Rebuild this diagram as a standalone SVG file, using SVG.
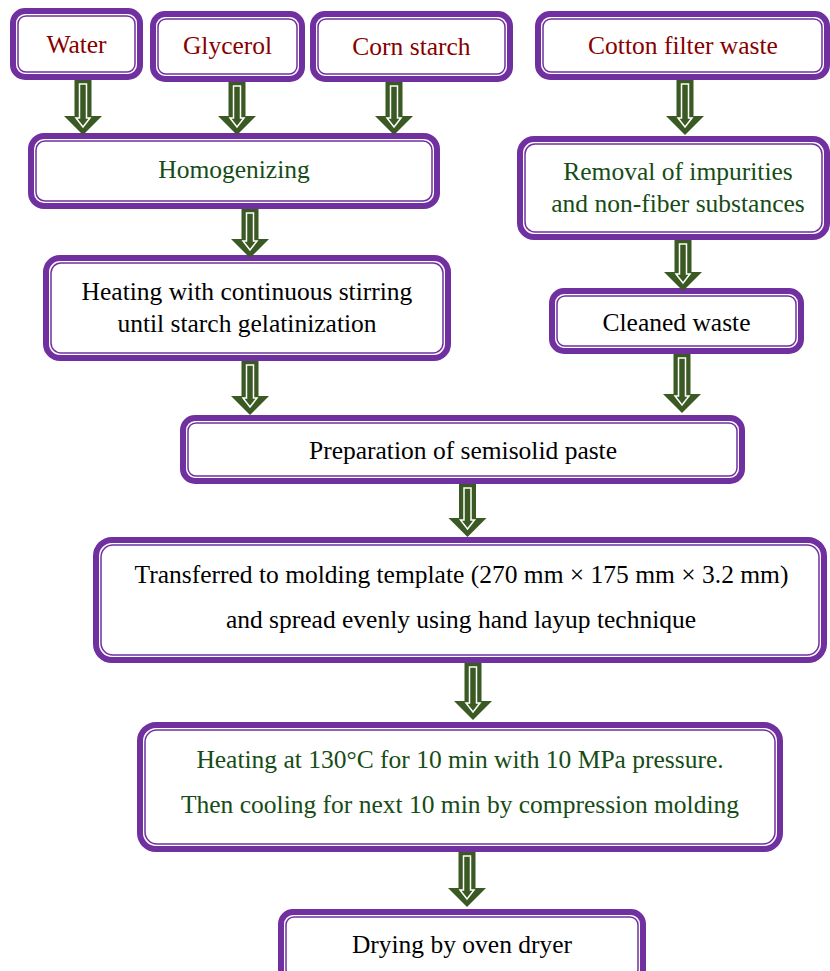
<svg xmlns="http://www.w3.org/2000/svg" width="830" height="971" viewBox="0 0 830 971">
<style>
.outer{fill:#fff;stroke:#7030a0;stroke-width:6}
.inner{fill:none;stroke:#7030a0;stroke-width:1.5}
.t{font-family:"Liberation Serif","Times New Roman",serif;font-size:25.5px;text-anchor:middle}
.red{fill:#860000}
.grn{fill:#164c16}
.blk{fill:#000}
.ao{fill:#3b5a23}
.ai{fill:#3b5a23;stroke:#fff;stroke-width:1.5;stroke-linejoin:miter}
</style>
<rect width="830" height="971" fill="#fff"/>

<g id="water">
<rect class="outer" x="13" y="11" width="127" height="66" rx="12"/>
<rect class="inner" x="18" y="16" width="117" height="56" rx="8"/>
<text class="t red" x="76.5" y="53">Water</text>
</g>
<g id="glycerol">
<rect class="outer" x="153" y="14" width="149" height="65" rx="12"/>
<rect class="inner" x="158" y="19" width="139" height="55" rx="8"/>
<text class="t red" x="227.5" y="54">Glycerol</text>
</g>
<g id="cornstarch">
<rect class="outer" x="313" y="14" width="197" height="65" rx="12"/>
<rect class="inner" x="318" y="19" width="187" height="55" rx="8"/>
<text class="t red" x="411.5" y="55">Corn starch</text>
</g>
<g id="cotton">
<rect class="outer" x="538" y="14" width="289" height="63" rx="12"/>
<rect class="inner" x="543" y="19" width="279" height="53" rx="8"/>
<text class="t red" x="683" y="54">Cotton filter waste</text>
</g>
<g id="homogenizing">
<rect class="outer" x="31" y="136" width="406" height="70" rx="13"/>
<rect class="inner" x="36" y="141" width="396" height="60" rx="9"/>
<text class="t grn" x="234" y="178">Homogenizing</text>
</g>
<g id="heating1">
<rect class="outer" x="46" y="258" width="402" height="100" rx="14"/>
<rect class="inner" x="51" y="263" width="392" height="90" rx="10"/>
<text class="t blk" x="247" y="300">Heating with continuous stirring</text>
<text class="t blk" x="247" y="332">until starch gelatinization</text>
</g>
<g id="removal">
<rect class="outer" x="520" y="139" width="307" height="98" rx="14"/>
<rect class="inner" x="525" y="144" width="297" height="88" rx="10"/>
<text class="t grn" x="678" y="180">Removal of impurities</text>
<text class="t grn" x="678" y="212">and non-fiber substances</text>
</g>
<g id="cleaned">
<rect class="outer" x="552" y="291" width="249" height="60" rx="12"/>
<rect class="inner" x="557" y="296" width="239" height="50" rx="8"/>
<text class="t blk" x="676.5" y="331">Cleaned waste</text>
</g>
<g id="preparation">
<rect class="outer" x="183" y="418" width="559" height="63" rx="12"/>
<rect class="inner" x="188" y="423" width="549" height="53" rx="8"/>
<text class="t blk" x="463" y="459">Preparation of semisolid paste</text>
</g>
<g id="transferred">
<rect class="outer" x="96" y="540" width="728" height="120" rx="16"/>
<rect class="inner" x="101" y="545" width="718" height="110" rx="12"/>
<text class="t blk" x="461.5" y="583">Transferred to molding template (270 mm × 175 mm × 3.2 mm)</text>
<text class="t blk" x="461" y="628">and spread evenly using hand layup technique</text>
</g>
<g id="heating2">
<rect class="outer" x="140" y="725" width="640" height="124" rx="16"/>
<rect class="inner" x="145" y="730" width="630" height="114" rx="12"/>
<text class="t grn" x="460" y="768">Heating at 130°C for 10 min with 10 MPa pressure.</text>
<text class="t grn" x="460" y="813">Then cooling for next 10 min by compression molding</text>
</g>
<g id="drying">
<rect class="outer" x="281" y="912" width="362" height="70" rx="12"/>
<rect class="inner" x="286" y="917" width="352" height="60" rx="8"/>
<text class="t blk" x="462" y="953">Drying by oven dryer</text>
</g>

<g id="connectors">
<!-- arrow: cx, top, tip; shaft half 8.5, head half 19, head h 19 -->
<g transform="translate(83,0)">
<polygon class="ao" points="-8.5,80 8.5,80 8.5,116 19,116 0,135 -19,116 -8.5,116"/>
<polygon class="ai" points="-3.5,84 3.5,84 3.5,118 7,118 0,127 -7,118 -3.5,118"/>
</g>
<g transform="translate(237,0)">
<polygon class="ao" points="-8.5,82 8.5,82 8.5,116 19,116 0,135 -19,116 -8.5,116"/>
<polygon class="ai" points="-3.5,86 3.5,86 3.5,118 7,118 0,127 -7,118 -3.5,118"/>
</g>
<g transform="translate(394,0)">
<polygon class="ao" points="-8.5,82 8.5,82 8.5,116 19,116 0,135 -19,116 -8.5,116"/>
<polygon class="ai" points="-3.5,86 3.5,86 3.5,118 7,118 0,127 -7,118 -3.5,118"/>
</g>
<g transform="translate(685,0)">
<polygon class="ao" points="-8.5,80 8.5,80 8.5,116 19,116 0,135 -19,116 -8.5,116"/>
<polygon class="ai" points="-3.5,84 3.5,84 3.5,118 7,118 0,127 -7,118 -3.5,118"/>
</g>
<g transform="translate(250,0)">
<polygon class="ao" points="-8.5,209 8.5,209 8.5,239 19,239 0,258 -19,239 -8.5,239"/>
<polygon class="ai" points="-3.5,213 3.5,213 3.5,241 7,241 0,250 -7,241 -3.5,241"/>
</g>
<g transform="translate(683,0)">
<polygon class="ao" points="-8.5,240 8.5,240 8.5,272 19,272 0,291 -19,272 -8.5,272"/>
<polygon class="ai" points="-3.5,244 3.5,244 3.5,274 7,274 0,283 -7,274 -3.5,274"/>
</g>
<g transform="translate(250,0)">
<polygon class="ao" points="-8.5,361 8.5,361 8.5,396 19,396 0,415 -19,396 -8.5,396"/>
<polygon class="ai" points="-3.5,365 3.5,365 3.5,398 7,398 0,407 -7,398 -3.5,398"/>
</g>
<g transform="translate(682,0)">
<polygon class="ao" points="-8.5,354 8.5,354 8.5,394 19,394 0,413 -19,394 -8.5,394"/>
<polygon class="ai" points="-3.5,358 3.5,358 3.5,396 7,396 0,405 -7,396 -3.5,396"/>
</g>
<g transform="translate(467.5,0)">
<polygon class="ao" points="-8.5,484 8.5,484 8.5,518 19,518 0,537 -19,518 -8.5,518"/>
<polygon class="ai" points="-3.5,488 3.5,488 3.5,520 7,520 0,529 -7,520 -3.5,520"/>
</g>
<g transform="translate(473,0)">
<polygon class="ao" points="-8.5,663 8.5,663 8.5,701 19,701 0,720 -19,701 -8.5,701"/>
<polygon class="ai" points="-3.5,667 3.5,667 3.5,703 7,703 0,712 -7,703 -3.5,703"/>
</g>
<g transform="translate(467,0)">
<polygon class="ao" points="-8.5,852 8.5,852 8.5,888 19,888 0,907 -19,888 -8.5,888"/>
<polygon class="ai" points="-3.5,856 3.5,856 3.5,890 7,890 0,899 -7,890 -3.5,890"/>
</g>
</g>
</svg>
